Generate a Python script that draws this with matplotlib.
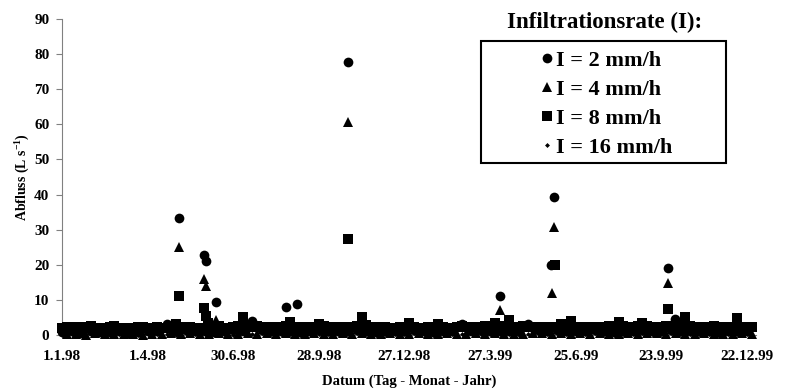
import numpy as np
import pandas as pd
import matplotlib
matplotlib.use('Agg')
import matplotlib.pyplot as plt
from matplotlib.patches import Rectangle

plt.rcParams['font.family'] = 'Liberation Serif'
plt.rcParams['font.weight'] = 'bold'
plt.rcParams['mathtext.fontset'] = 'custom'
plt.rcParams['mathtext.rm'] = 'Liberation Serif:bold'
plt.rcParams['mathtext.bf'] = 'Liberation Serif:bold'

# Grundlinie: 5-Tage-Raster (8 mm/h) und 10-Tage-Raster (übrige Reihen)
start = pd.Timestamp('1998-01-01')
dates_5 = pd.date_range(start, periods=146, freq='5D')
dates_10 = pd.date_range(start, periods=73, freq='10D')
dates_10b = pd.date_range(start + pd.Timedelta(days=5), periods=73, freq='10D')

base_8 = [1.9, 2.2, 1.8, 2.4, 2.0, 2.3, 2.5, 2.1, 1.9, 2.0,
          2.2, 2.5, 2.1, 1.9, 2.0, 1.8, 2.2, 2.3, 2.1, 2.0,
          2.2, 1.9, 2.1, 2.3, 3.0, 2.4, 2.1, 2.2, 2.0, 1.9,
          2.1, 2.3, 2.2, 2.5, 2.0, 2.1, 2.3, 2.6, 5.0, 2.7,
          2.3, 2.5, 2.2, 2.1, 2.4, 2.0, 2.2, 2.5, 3.7, 2.3,
          2.1, 2.2, 2.4, 2.0, 3.0, 2.5, 2.2, 2.1, 2.3, 2.0,
          2.2, 2.4, 2.6, 5.0, 2.9, 2.3, 2.1, 2.4, 2.2, 2.0,
          2.1, 2.3, 2.2, 3.5, 2.4, 2.1, 1.9, 2.2, 2.3, 3.0,
          2.4, 2.1, 2.0, 2.3, 2.5, 2.2, 2.1, 2.4, 2.3, 2.5,
          2.7, 3.5, 2.6, 2.4, 4.3, 2.3, 2.1, 2.5, 2.2, 2.4,
          2.1, 2.3, 2.0, 2.2, 2.4, 3.0, 2.5, 4.0, 2.3, 2.1,
          2.2, 2.0, 2.3, 2.4, 2.2, 2.5, 2.3, 3.7, 2.6, 2.4,
          2.2, 2.7, 3.5, 2.5, 2.3, 2.2, 2.4, 2.5, 2.3, 2.6,
          2.9, 5.0, 2.7, 2.4, 2.2, 2.1, 2.3, 2.5, 2.2, 2.3,
          2.1, 2.4, 4.7, 2.3, 2.1, 2.2]
base_2 = [0.8, 1.0, 0.7, 1.1, 0.9, 0.8, 1.0, 0.7, 0.9, 1.1,
          1.0, 3.0, 1.1, 1.3, 1.0, 1.2, 0.9, 1.1, 1.4, 1.2,
          4.0, 1.3, 1.1, 1.0, 1.2, 0.9, 1.1, 1.3, 1.0, 1.2,
          1.1, 1.4, 1.0, 0.9, 1.2, 1.1, 1.0, 1.3, 1.1, 0.9,
          1.2, 1.0, 3.0, 1.1, 1.3, 1.0, 1.2, 1.1, 1.0, 3.0,
          1.3, 1.1, 1.4, 1.0, 1.2, 1.1, 1.3, 1.0, 0.9, 1.2,
          1.1, 1.3, 1.2, 1.0, 1.4, 1.1, 1.0, 1.2, 1.1, 0.9,
          1.0, 1.2, 1.1]
base_4 = [0.2, 0.4, 0.1, 0.5, 0.3, 0.2, 0.4, 0.3, 0.1, 0.4,
          0.3, 0.5, 0.2, 0.6, 0.4, 0.3, 0.5, 0.4, 0.2, 0.6,
          0.4, 0.7, 0.3, 0.5, 0.4, 0.2, 0.6, 0.4, 0.3, 0.5,
          0.4, 0.6, 0.3, 0.2, 0.5, 0.4, 0.3, 0.6, 0.4, 0.2,
          0.5, 0.3, 0.4, 0.6, 0.3, 0.5, 0.4, 0.3, 0.2, 0.5,
          0.6, 0.4, 0.7, 0.3, 0.5, 0.4, 0.6, 0.3, 0.2, 0.5,
          0.4, 0.6, 0.5, 0.3, 0.7, 0.4, 0.3, 0.5, 0.4, 0.2,
          0.3, 0.5, 0.4]
base_16 = [0.1, 0.3, 0.0, 0.4, 0.2, 0.1, 0.3, 0.2, 0.0, 0.3,
           0.2, 0.4, 0.1, 0.5, 0.3, 0.2, 0.4, 0.3, 0.1, 0.5,
           0.3, 0.6, 0.2, 0.4, 0.3, 0.1, 0.5, 0.3, 0.2, 0.4,
           0.3, 0.5, 0.2, 0.1, 0.4, 0.3, 0.2, 0.5, 0.3, 0.1,
           0.4, 0.2, 0.3, 0.5, 0.2, 0.4, 0.3, 0.2, 0.1, 0.4,
           0.5, 0.3, 0.6, 0.2, 0.4, 0.3, 0.5, 0.2, 0.1, 0.4,
           0.3, 0.5, 0.4, 0.2, 0.6, 0.3, 0.2, 0.4, 0.3, 0.1,
           0.2, 0.4, 0.3]

# Abflussspitzen
peak_dates_2 = ['1998-05-04', '1998-05-30', '1998-06-01', '1998-06-12', '1998-08-24',
                '1998-09-05', '1998-10-29', '1999-04-06', '1999-05-30', '1999-06-02',
                '1999-09-30', '1999-10-07']
peak_vals_2 = [33.3, 22.7, 21.1, 9.4, 8.0, 8.7, 77.7, 11.2, 19.8, 39.3, 19.2, 4.5]
peak_dates_4 = ['1998-05-04', '1998-05-30', '1998-06-01', '1998-06-12', '1998-10-29',
                '1999-04-06', '1999-05-31', '1999-06-02', '1999-09-30']
peak_vals_4 = [25.0, 16.0, 14.0, 4.2, 60.6, 7.1, 12.0, 30.9, 14.9]
peak_dates_8 = ['1998-05-04', '1998-05-30', '1998-06-01', '1998-06-03', '1998-10-29',
                '1999-06-03', '1999-09-30', '1999-10-18']
peak_vals_8 = [11.1, 7.7, 5.5, 3.5, 27.3, 19.8, 7.3, 5.0]

labels = ['I = 2 mm/h', 'I = 4 mm/h', 'I = 8 mm/h', 'I = 16 mm/h']

series = [
    (dates_10, base_2, peak_dates_2, peak_vals_2, 'o', 7),
    (dates_10b, base_4, peak_dates_4, peak_vals_4, '^', 7.5),
    (dates_5, base_8, peak_dates_8, peak_vals_8, 's', 7.3),
    (dates_10, base_16, [], [], 'D', 2.5),
]

fig = plt.figure(figsize=(7.86, 3.92), dpi=100)
ax = fig.add_axes([62 / 786, 57 / 392, 694.5 / 786, 316 / 392])

handles = []
for (bd, bv, pd_, pv, m, ms), lab in zip(series, labels):
    d = list(bd) + [pd.Timestamp(x) for x in pd_]
    v = list(bv) + list(pv)
    h, = ax.plot(d, v, linestyle='none', marker=m, markersize=ms, color='black',
                 markeredgewidth=0, clip_on=False, zorder=3, label=lab)
    handles.append(h)

ax.set_xlim(start, pd.Timestamp('2000-01-01'))
ax.set_ylim(0, 90)
ax.set_yticks(np.arange(0, 91, 10))

tick_labels = ['1.1.98', '1.4.98', '30.6.98', '28.9.98', '27.12.98',
               '27.3.99', '25.6.99', '23.9.99', '22.12.99']
ax.set_xticks([start + pd.Timedelta(days=90 * k) for k in range(len(tick_labels))])
ax.set_xticklabels(tick_labels)

for s in ['top', 'right']:
    ax.spines[s].set_visible(False)
ax.spines['left'].set_color('#808080')
ax.spines['bottom'].set_color('#808080')
ax.tick_params(axis='y', direction='out', length=4, color='#808080', pad=5, labelsize=11)
ax.tick_params(axis='x', length=0, pad=11, labelsize=11)
for t in ax.get_xticklabels() + ax.get_yticklabels():
    t.set_fontweight('bold')

ax.set_xlabel('Datum (Tag - Monat - Jahr)', fontsize=10.5, fontweight='bold', labelpad=8)
ax.set_ylabel(r'Abfluss (L s$^{-1}$)', fontsize=10, fontweight='bold', labelpad=2)

fig.text(605 / 786, 1 - 22 / 392, 'Infiltrationsrate (I):', ha='center', va='center',
         fontsize=16.5, fontweight='bold')
fig.patches.append(Rectangle((481 / 786, 1 - 163 / 392), 245 / 786, 122 / 392,
                             transform=fig.transFigure, fill=False, lw=1.5,
                             edgecolor='black'))
leg = ax.legend(handles=handles, loc='upper left', frameon=False,
                bbox_to_anchor=(518 / 786, 1 - 30 / 392), bbox_transform=fig.transFigure,
                prop={'family': 'Liberation Serif', 'weight': 'bold', 'size': 16},
                handlelength=0.8, handletextpad=0.0, labelspacing=0.38, borderpad=0.4,
                markerscale=1.0)

fig.savefig('out.png', dpi=100)
